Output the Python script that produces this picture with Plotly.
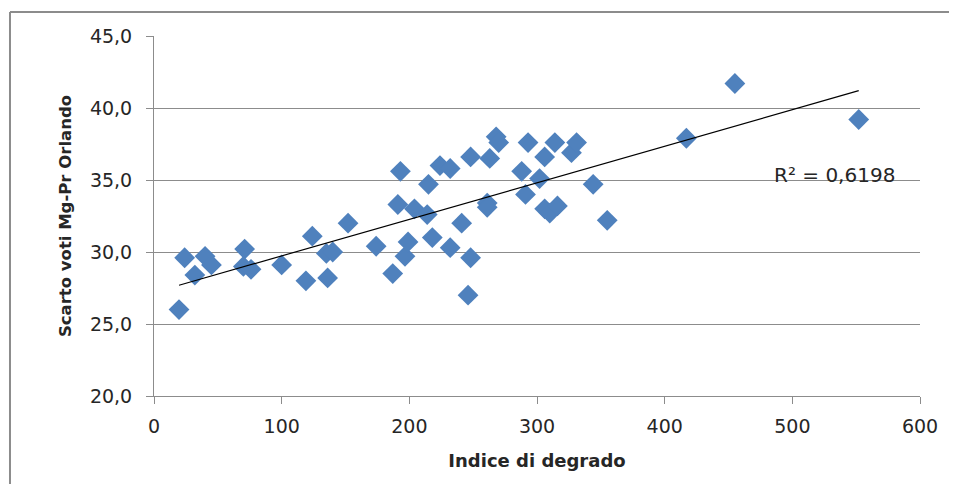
import numpy as np
import plotly.graph_objects as go

# Data
indice_degrado = [19.6, 24, 32, 40, 45, 71, 70, 76, 100, 119, 124, 136, 135, 140, 152,
                  174, 187, 191, 193, 196.6, 199, 204, 214, 215, 218, 224, 232, 232,
                  241, 246, 248, 248, 263, 261, 261, 268, 270, 288, 291, 293, 302, 306,
                  306, 310, 314, 316, 327, 331, 344, 355, 417, 455, 552]
scarto_voti = [26.0, 29.6, 28.4, 29.7, 29.1, 30.2, 29.0, 28.8, 29.1, 28.0, 31.1, 28.2,
               29.9, 30.0, 32.0, 30.4, 28.5, 33.3, 35.6, 29.7, 30.7, 33.0, 32.6, 34.7,
               31.0, 36.0, 35.8, 30.3, 32.0, 27.0, 29.6, 36.6, 36.5, 33.4, 33.1, 38.0,
               37.6, 35.6, 34.0, 37.6, 35.1, 36.6, 33.0, 32.7, 37.6, 33.2, 36.9, 37.6,
               34.7, 32.2, 37.9, 41.7, 39.2]
r2_label = "R² = 0,6198"
x_ticks = [0, 100, 200, 300, 400, 500, 600]
y_ticks = [20, 25, 30, 35, 40, 45]

x = np.array(indice_degrado)
y = np.array(scarto_voti)
slope, intercept = np.polyfit(x, y, 1)
x_line = np.array([x.min(), x.max()])
y_line = slope * x_line + intercept

FONT = "DejaVu Sans, Open Sans, sans-serif"
TXT = "#262626"

fig = go.Figure()
fig.add_trace(go.Scatter(
    x=indice_degrado, y=scarto_voti, mode="markers",
    marker=dict(symbol="diamond", size=16, color="#4F81BD", line=dict(width=0)),
    showlegend=False, hoverinfo="x+y"))
fig.add_trace(go.Scatter(
    x=x_line, y=y_line, mode="lines",
    line=dict(color="#000000", width=1.2), showlegend=False, hoverinfo="skip"))

fig.add_annotation(x=484, y=35.35, xref="x", yref="y", text=r2_label,
                   showarrow=False, xanchor="left", yanchor="middle",
                   font=dict(family=FONT, size=20, color=TXT))

# outer chart border: only its left and top edges are in view
border = dict(color="#8C8C8C", width=2)
fig.add_shape(type="line", xref="paper", yref="paper",
              x0=-0.188, x1=-0.188, y0=-0.5, y1=1.0667, line=border, layer="below")
fig.add_shape(type="line", xref="paper", yref="paper",
              x0=-0.188, x1=1.2, y0=1.0667, y1=1.0667, line=border, layer="below")

fig.update_layout(
    width=941, height=476,
    margin=dict(l=146, r=29, t=28, b=88),
    paper_bgcolor="white", plot_bgcolor="white",
    separators=",.",
    font=dict(family=FONT, color=TXT),
    xaxis=dict(range=[0, 600], tickvals=x_ticks, showgrid=False, zeroline=False,
               showline=True, linecolor="#8C8C8C", linewidth=1,
               ticks="outside", ticklen=7, tickcolor="#8C8C8C",
               ticklabelstandoff=6,
               tickfont=dict(size=19, family=FONT, color=TXT),
               title=dict(text="<b>Indice di degrado</b>", standoff=18,
                          font=dict(size=18, family=FONT, color=TXT))),
    yaxis=dict(range=[20, 45], tickvals=y_ticks, tickformat=".1f",
               showgrid=True, gridcolor="#8C8C8C", gridwidth=1, zeroline=False,
               showline=True, linecolor="#8C8C8C", linewidth=1,
               ticks="outside", ticklen=7, tickcolor="#8C8C8C",
               ticklabelstandoff=10,
               tickfont=dict(size=19, family=FONT, color=TXT),
               title=dict(text="<b>Scarto voti Mg-Pr Orlando</b>", standoff=14,
                          font=dict(size=16.5, family=FONT, color=TXT))),
)

fig.write_html("out.html")
